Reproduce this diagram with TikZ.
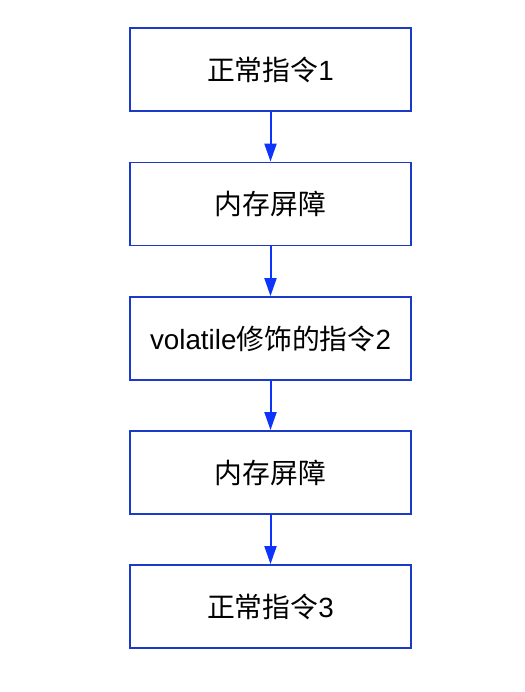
\documentclass[tikz,border=0pt]{standalone}
\usepackage{fontspec}
\setmainfont{Liberation Sans}
\newfontfamily\cjk{Noto Sans CJK SC}
\usetikzlibrary{arrows.meta}
\definecolor{boxblue}{RGB}{28,58,200}
\definecolor{arrowblue}{RGB}{12,52,250}
\begin{document}
\begin{tikzpicture}[x=1pt,y=-1pt,
  stepbox/.style={draw=boxblue,line width=1.8pt,fill=white,minimum width=281pt,minimum height=83pt,inner sep=0pt,font=\fontsize{27.8}{32}\selectfont},
  flow/.style={draw=arrowblue,line width=2pt,-{Triangle[length=18pt,width=12pt]}}]
\useasboundingbox (0,0) rectangle (524,692);
\node[stepbox] (b1) at (270.5,69.5) {{\cjk 正常指令}1};
\node[stepbox] (b2) at (270.5,204) {\cjk 内存屏障};
\node[stepbox] (b3) at (270.5,338.5) {volatile{\cjk 修饰的指令}2};
\node[stepbox] (b4) at (270.5,472.5) {\cjk 内存屏障};
\node[stepbox] (b5) at (270.5,606.5) {{\cjk 正常指令}3};
\draw[flow] (b1) -- (b2);
\draw[flow] (b2) -- (b3);
\draw[flow] (b3) -- (b4);
\draw[flow] (b4) -- (b5);
\end{tikzpicture}
\end{document}
